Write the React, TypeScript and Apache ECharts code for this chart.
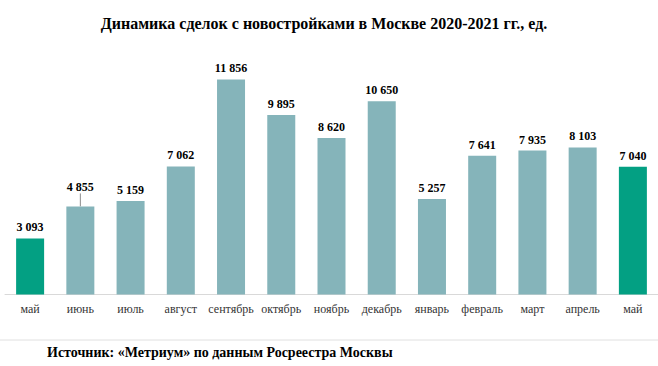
import React, { useEffect, useRef } from "react";
import * as echarts from "echarts";

const titleText = "Динамика сделок с новостройками в Москве 2020-2021 гг., ед.";
const sourceText = "Источник: «Метриум» по данным Росреестра Москвы";
const months = ["май", "июнь", "июль", "август", "сентябрь", "октябрь", "ноябрь", "декабрь", "январь", "февраль", "март", "апрель", "май"];
const deals = [3093, 4855, 5159, 7062, 11856, 9895, 8620, 10650, 5257, 7641, 7935, 8103, 7040];
const highlighted = [0, 12];

const SERIF = "Liberation Serif";
const GREEN = "#03A083";
const TEAL = "#85B4BA";

function fmt(v: number): string {
  return String(v).replace(/\B(?=(\d{3})+(?!\d))/g, " ");
}

export default function App() {
  const ref = useRef<HTMLDivElement>(null);
  useEffect(() => {
    if (!ref.current) return;
    const chart = echarts.init(ref.current, null, { renderer: "svg" });
    chart.setOption({
      animation: false,
      backgroundColor: "#ffffff",
      textStyle: { fontFamily: SERIF },
      title: {
        text: titleText,
        left: 319,
        textAlign: "center",
        top: 10,
        textStyle: { fontFamily: SERIF, fontSize: 16, fontWeight: "bold", color: "#000" },
      },
      grid: { left: 5, width: 658, top: 40.5, height: 254 },
      xAxis: {
        type: "category",
        data: months,
        axisLine: { show: true, lineStyle: { color: "#d9d9d9", width: 1 } },
        axisTick: { show: false },
        axisLabel: { fontFamily: SERIF, fontSize: 12, color: "#333", margin: 8, interval: 0 },
      },
      yAxis: {
        type: "value",
        min: 0,
        max: 14000,
        show: false,
        splitLine: { show: false },
      },
      series: [
        {
          type: "bar",
          barWidth: 28,
          data: deals.map((v, i) => ({
            value: v,
            itemStyle: { color: highlighted.includes(i) ? GREEN : TEAL },
            labelLine: i === 1 ? { show: true, lineStyle: { color: "#8c8c8c", width: 1 } } : undefined,
          })),
          label: {
            show: true,
            position: "top",
            distance: 5,
            fontFamily: SERIF,
            fontSize: 12,
            fontWeight: "bold",
            color: "#000",
            formatter: (p: any) => fmt(p.value),
          },
          labelLayout: (p: any) => (p.dataIndex === 1 ? { dy: -8 } : {}),
        },
      ],
      graphic: [
        {
          type: "line",
          shape: { x1: 0, y1: 340, x2: 658, y2: 340 },
          style: { stroke: "#e0e0e0", lineWidth: 1 },
        },
        {
          type: "text",
          left: 47,
          top: 345,
          style: { text: sourceText, fontFamily: SERIF, fontSize: 14, fontWeight: "bold", fill: "#000" },
        },
      ],
    });
    return () => chart.dispose();
  }, []);
  return <div ref={ref} style={{ position: "absolute", left: 0, top: 0, width: 658, height: 366 }} />;
}
